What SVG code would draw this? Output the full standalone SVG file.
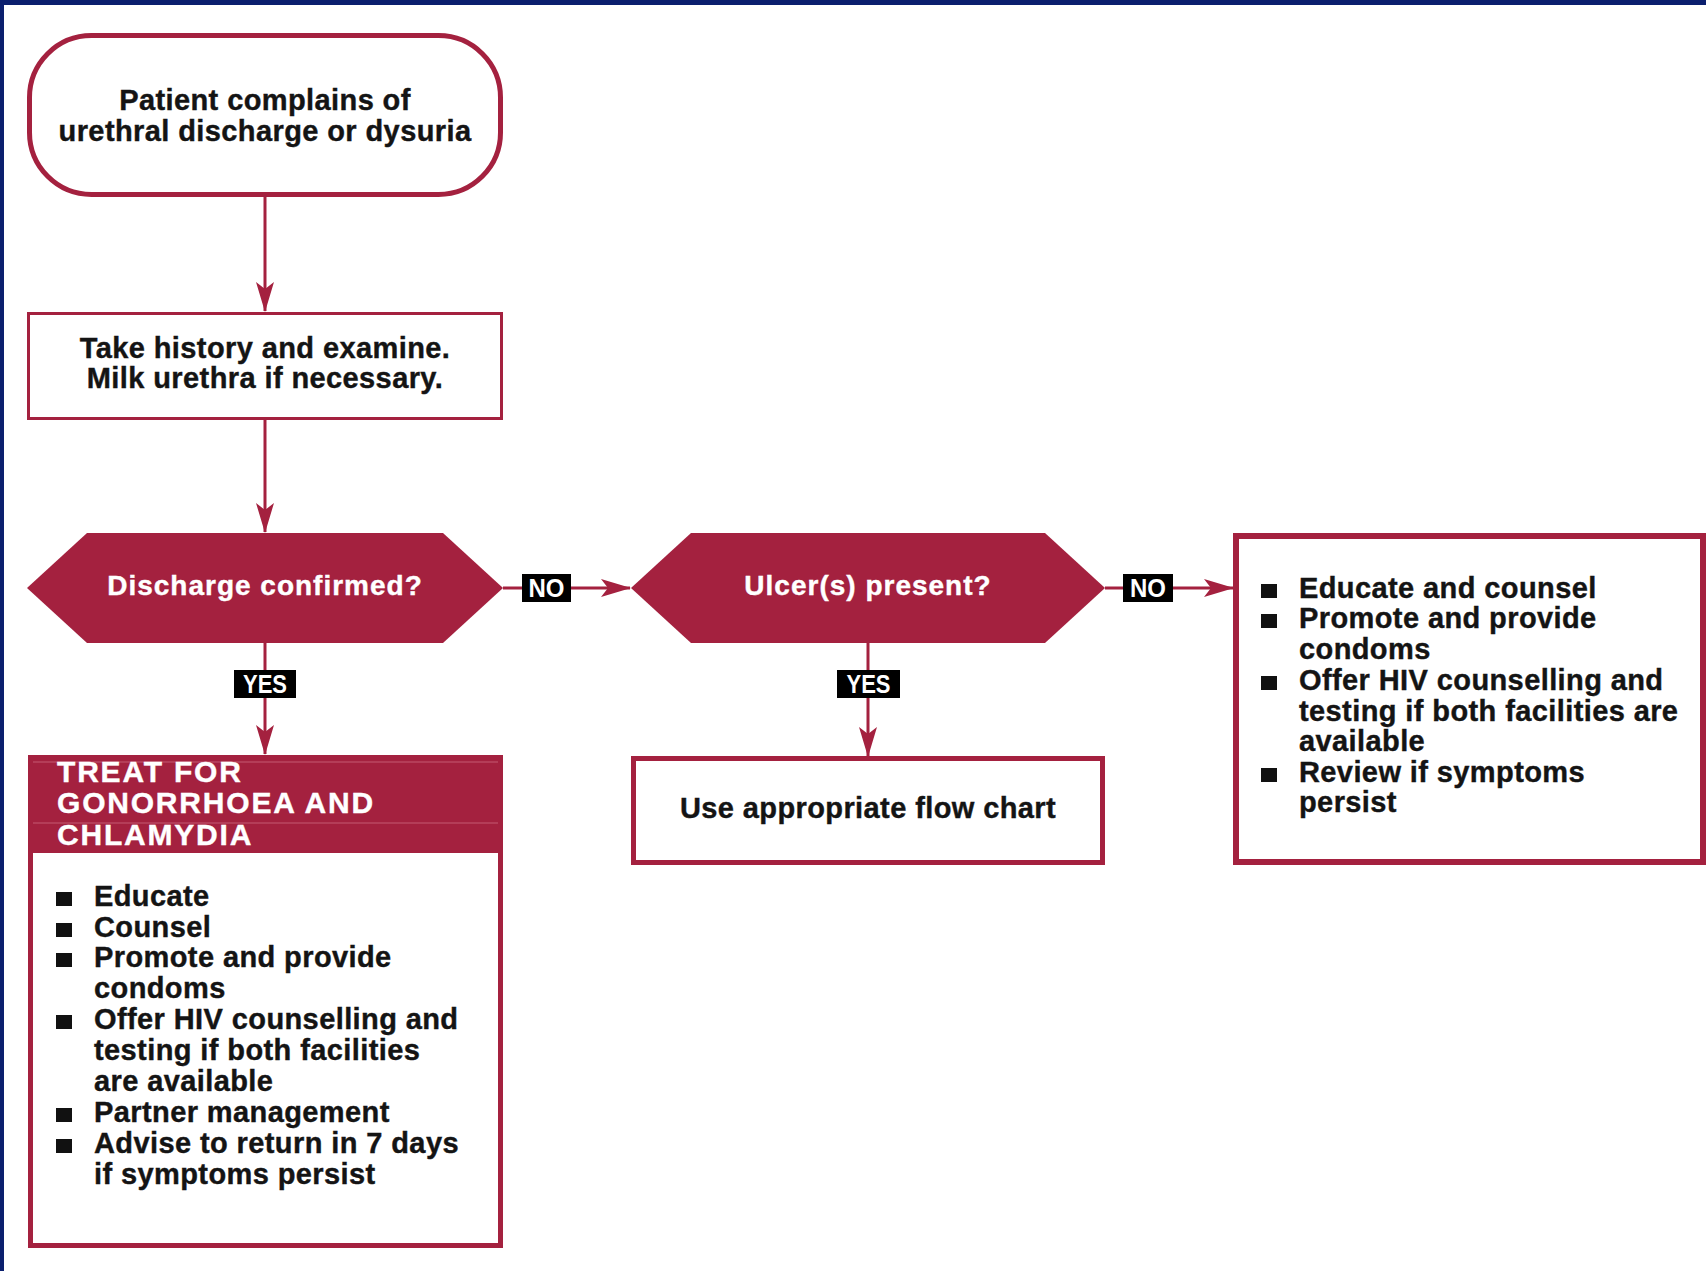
<svg xmlns="http://www.w3.org/2000/svg" width="1706" height="1271" viewBox="0 0 1706 1271">
<defs>
<style>
.t{font-family:"Liberation Sans",Arial,Helvetica,sans-serif;font-weight:bold;font-size:29px;letter-spacing:0.4px;fill:#141414;stroke:#141414;stroke-width:0.4px}
.c{text-anchor:middle}
.hx{fill:#ffffff;stroke:#ffffff;font-size:28px;letter-spacing:1px}
.hd{fill:#ffffff;stroke:#ffffff;font-size:30px;letter-spacing:1.8px}
.lb{fill:#ffffff;stroke:none;font-size:25px;letter-spacing:0;text-anchor:middle}
.box{fill:#ffffff;stroke:#a4213f}
.hex{fill:#a4213f;stroke:none}
.conn{stroke:#a4213f;stroke-width:3;fill:none}
.tag{fill:#000000}
.bul{fill:#111111}
</style>
<marker id="ah" viewBox="0 0 30 18" refX="29" refY="9" markerWidth="30" markerHeight="18" markerUnits="userSpaceOnUse" orient="auto">
<path d="M0,0 L30,9 L0,18 L7,9 Z" fill="#a4213f"/>
</marker>
</defs>
<rect x="0" y="0" width="1706" height="1271" fill="#ffffff"/>
<rect x="0" y="0" width="1706" height="5" fill="#0b1f6e"/>
<rect x="0" y="0" width="4" height="1271" fill="#0b1f6e"/>

<g id="connectors">
<line class="conn" x1="265" y1="197" x2="265" y2="311" marker-end="url(#ah)"/>
<line class="conn" x1="265" y1="420" x2="265" y2="532" marker-end="url(#ah)"/>
<line class="conn" x1="503" y1="588" x2="630" y2="588" marker-end="url(#ah)"/>
<line class="conn" x1="265" y1="643" x2="265" y2="754" marker-end="url(#ah)"/>
<line class="conn" x1="868" y1="643" x2="868" y2="756" marker-end="url(#ah)"/>
<line class="conn" x1="1105" y1="588" x2="1233" y2="588" marker-end="url(#ah)"/>
<g id="label-no-1"><rect class="tag" x="522" y="574" width="49" height="28"/><text class="t lb" x="546.5" y="597" textLength="36" lengthAdjust="spacingAndGlyphs">NO</text></g>
<g id="label-yes-1"><rect class="tag" x="234" y="670" width="62" height="28"/><text class="t lb" x="265" y="693" textLength="44" lengthAdjust="spacingAndGlyphs">YES</text></g>
<g id="label-yes-2"><rect class="tag" x="837" y="670" width="63" height="28"/><text class="t lb" x="868.5" y="693" textLength="44" lengthAdjust="spacingAndGlyphs">YES</text></g>
<g id="label-no-2"><rect class="tag" x="1123" y="574" width="50" height="28"/><text class="t lb" x="1148" y="597" textLength="36" lengthAdjust="spacingAndGlyphs">NO</text></g>
</g>

<g id="start">
<rect class="box" x="29.5" y="35.5" width="471" height="159" rx="62" ry="62" stroke-width="5"/>
<text class="t c" x="265" y="110">Patient complains of</text>
<text class="t c" x="265" y="141">urethral discharge or dysuria</text>
</g>

<g id="history">
<rect class="box" x="28.5" y="313.5" width="473" height="105" stroke-width="3"/>
<text class="t c" x="265" y="358">Take history and examine.</text>
<text class="t c" x="265" y="388">Milk urethra if necessary.</text>
</g>

<g id="discharge">
<polygon class="hex" points="27,588 87,533 443,533 503,588 443,643 87,643"/>
<text class="t c hx" x="265" y="595">Discharge confirmed?</text>
</g>

<g id="ulcer">
<polygon class="hex" points="631,588 691,533 1045,533 1105,588 1045,643 691,643"/>
<text class="t c hx" x="868" y="595">Ulcer(s) present?</text>
</g>

<g id="treat">
<rect class="box" x="30.5" y="757.5" width="470" height="488" stroke-width="5"/>
<rect x="28" y="755" width="475" height="98" fill="#a4213f"/>
<line x1="33" y1="762" x2="498" y2="762" stroke="#c45a72" stroke-width="1.2"/>
<line x1="33" y1="823" x2="498" y2="823" stroke="#c45a72" stroke-width="1.2"/>
<text class="t hd" x="57" y="782">TREAT FOR</text>
<text class="t hd" x="57" y="813">GONORRHOEA AND</text>
<text class="t hd" x="57" y="845">CHLAMYDIA</text>
<rect class="bul" x="56" y="892" width="16" height="14"/>
<rect class="bul" x="56" y="923" width="16" height="14"/>
<rect class="bul" x="56" y="953" width="16" height="14"/>
<rect class="bul" x="56" y="1015" width="16" height="14"/>
<rect class="bul" x="56" y="1108" width="16" height="14"/>
<rect class="bul" x="56" y="1139" width="16" height="14"/>
<text class="t" x="94" y="906">Educate</text>
<text class="t" x="94" y="937">Counsel</text>
<text class="t" x="94" y="967">Promote and provide</text>
<text class="t" x="94" y="998">condoms</text>
<text class="t" x="94" y="1029">Offer HIV counselling and</text>
<text class="t" x="94" y="1060">testing if both facilities</text>
<text class="t" x="94" y="1091">are available</text>
<text class="t" x="94" y="1122">Partner management</text>
<text class="t" x="94" y="1153">Advise to return in 7 days</text>
<text class="t" x="94" y="1184">if symptoms persist</text>
</g>

<g id="flowchart">
<rect class="box" x="633.5" y="758.5" width="469" height="104" stroke-width="5"/>
<text class="t c" x="868" y="818">Use appropriate flow chart</text>
</g>

<g id="educate">
<rect class="box" x="1236" y="536" width="467" height="326" stroke-width="6"/>
<rect class="bul" x="1261" y="584" width="16" height="14"/>
<rect class="bul" x="1261" y="614" width="16" height="14"/>
<rect class="bul" x="1261" y="676" width="16" height="14"/>
<rect class="bul" x="1261" y="768" width="16" height="14"/>
<text class="t" x="1299" y="598">Educate and counsel</text>
<text class="t" x="1299" y="628">Promote and provide</text>
<text class="t" x="1299" y="659">condoms</text>
<text class="t" x="1299" y="690">Offer HIV counselling and</text>
<text class="t" x="1299" y="721">testing if both facilities are</text>
<text class="t" x="1299" y="751">available</text>
<text class="t" x="1299" y="782">Review if symptoms</text>
<text class="t" x="1299" y="812">persist</text>
</g>
</svg>
